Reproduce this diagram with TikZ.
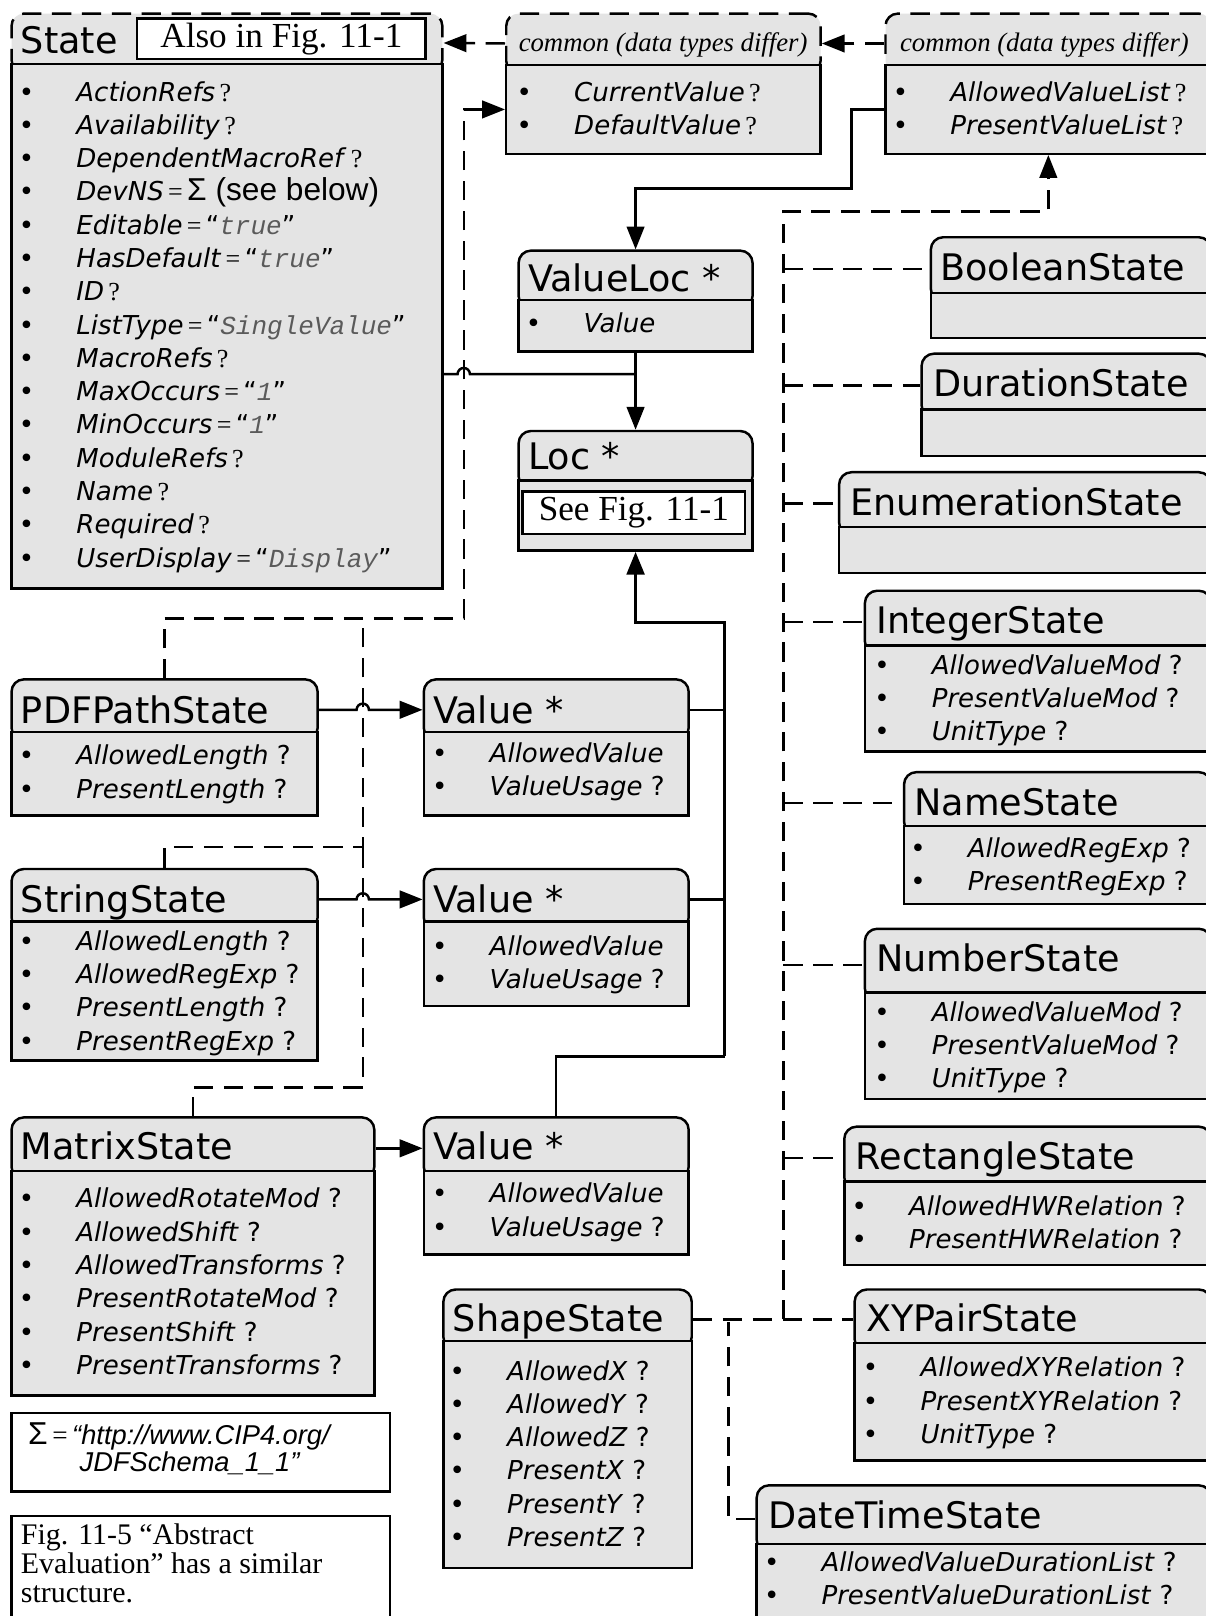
\documentclass[tikz,border=0pt]{standalone}
\usepackage{fontspec}
\setmainfont{Liberation Serif}
\setsansfont{DejaVu Sans}
\setmonofont{Liberation Mono}
\newfontfamily\arialfont{Liberation Sans}
\usetikzlibrary{arrows.meta}
\definecolor{boxgray}{HTML}{E4E4E4}
\definecolor{valgray}{HTML}{5A5A5A}
\def\px{0.0206cm}
\newlength\bulw \setlength\bulw{1.15cm}

\newcommand\qm{\,{\rmfamily ?}}
\newcommand\qs{\ ?}
\newcommand\attval[1]{\,{\rmfamily =}\,“{\ttfamily\itshape\color{valgray}#1}”}
\newcommand\sigpart{\,{\rmfamily =}\,{\arialfont\fontsize{18}{20}\selectfont Σ (see below)}}

\tikzset{
  hdr/.style={draw, fill=boxgray, rounded corners=7pt, line width=1.4pt, inner sep=0pt},
  bdy/.style={draw, fill=boxgray, line width=1.4pt, inner sep=0pt},
  dashhdr/.style={dash pattern=on 11pt off 6pt},
  ttl/.style={font=\sffamily\fontsize{20.8}{24}\selectfont, inner sep=0pt, anchor=base west},
  ctl/.style={font=\rmfamily\itshape\fontsize{15.2}{18}\selectfont, inner sep=0pt, anchor=base west},
  attr/.style={font=\sffamily\fontsize{14.8}{18}\selectfont, inner sep=0pt, anchor=base west},
  note/.style={draw, fill=white, line width=1.4pt, inner sep=0pt},
  refbox/.style={note, font=\rmfamily\fontsize{20}{24}\selectfont},
  sline/.style={line width=1.4pt},
  dline/.style={line width=1.4pt, dash pattern=on 11pt off 6pt},
  tri/.style={-{Triangle[length=13pt,width=10pt]}}
}

% [header style] name, left, top, right, divider, bottom
\newcommand\umlbox[7][]{%
  \node[hdr,#1,minimum width={(#5-#3)*\px},minimum height={(#6-#4+8)*\px},anchor=north west] (#2) at (#3,#4) {};
  \node[bdy,minimum width={(#5-#3)*\px},minimum height={(#7-#6)*\px},anchor=north west] (#2-b) at (#3,#6) {};}
% name, x, first baseline, items name/suffix
\newcommand\attrs[4]{%
  \foreach \attname/\attsuf [count=\i] in {#4}
    \node[attr] (#1-a\i) at (#2,{#3+(\i-1)*32.3}) {\makebox[\bulw][l]{\textbullet}\textit{\attname}\attsuf};}

\begin{document}
\begin{tikzpicture}[x=0.0206cm, y=-0.0206cm]
\useasboundingbox (0,0) rectangle (1170,1568);
\clip (0,0) rectangle (1170,1568);
\fill[white] (0,0) rectangle (1170,1568);

% common parents
\umlbox[dashhdr]{state}{10}{12}{428}{61}{570}
\node[ttl] (state-t) at (20,52) {State};
\node[refbox, minimum width=280*\px, minimum height=39*\px] (state-ref) at (273,37.5) {Also in Fig. 11-1};
\attrs{state}{18}{98}{ActionRefs/\qm, Availability/\qm, DependentMacroRef/\qm, DevNS/\sigpart,
  Editable/\attval{true}, HasDefault/\attval{true}, ID/\qm, ListType/\attval{SingleValue},
  MacroRefs/\qm, MaxOccurs/\attval{1}, MinOccurs/\attval{1}, ModuleRefs/\qm, Name/\qm,
  Required/\qm, UserDisplay/\attval{Display}}

\umlbox[dashhdr]{cv1}{490}{12}{795}{62}{148}
\node[ctl] (cv1-t) at (503,50) {common (data types differ)};
\attrs{cv1}{501}{98}{CurrentValue/\qm, DefaultValue/\qm}

\umlbox[dashhdr]{cv2}{858}{12}{1174}{62}{148}
\node[ctl] (cv2-t) at (873,50) {common (data types differ)};
\attrs{cv2}{866}{98}{AllowedValueList/\qm, PresentValueList/\qm}

\umlbox{vloc}{502}{242}{729}{290}{340}
\node[ttl] (vloc-t) at (512,283) {ValueLoc *};
\attrs{vloc}{510}{323}{Value/\relax}

\umlbox{loc}{502}{417}{729}{465}{533}
\node[ttl] (loc-t) at (512,456) {Loc *};
\node[refbox, minimum width=216*\px, minimum height=41*\px] (loc-ref) at (615,497.5) {See Fig. 11-1};

% left column
\umlbox{pdf}{10}{658}{307}{709}{790}
\node[ttl] (pdf-t) at (20,702) {PDFPathState};
\attrs{pdf}{18}{742}{AllowedLength/\qs, PresentLength/\qs}

\umlbox{val1}{410}{658}{667}{709}{790}
\node[ttl] (val1-t) at (420,702) {Value *};
\attrs{val1}{419}{740}{AllowedValue/\relax, ValueUsage/\qs}

\umlbox{str}{10}{842}{307}{893}{1028}
\node[ttl] (str-t) at (20,885) {StringState};
\attrs{str}{18}{922}{AllowedLength/\qs, AllowedRegExp/\qs, PresentLength/\qs, PresentRegExp/\qs}

\umlbox{val2}{410}{842}{667}{893}{975}
\node[ttl] (val2-t) at (420,885) {Value *};
\attrs{val2}{419}{927}{AllowedValue/\relax, ValueUsage/\qs}

\umlbox{mtx}{10}{1083}{362}{1135}{1353}
\node[ttl] (mtx-t) at (20,1125) {MatrixState};
\attrs{mtx}{18}{1172}{AllowedRotateMod/\qs, AllowedShift/\qs, AllowedTransforms/\qs,
  PresentRotateMod/\qs, PresentShift/\qs, PresentTransforms/\qs}

\umlbox{val3}{410}{1083}{667}{1135}{1216}
\node[ttl] (val3-t) at (420,1125) {Value *};
\attrs{val3}{419}{1167}{AllowedValue/\relax, ValueUsage/\qs}

\umlbox{shape}{429}{1250}{670}{1300}{1520}
\node[ttl] (shape-t) at (439,1292) {ShapeState};
\attrs{shape}{436}{1339}{AllowedX/\qs, AllowedY/\qs, AllowedZ/\qs, PresentX/\qs, PresentY/\qs, PresentZ/\qs}

% right column
\umlbox{bool}{902}{229}{1174}{283}{327}
\node[ttl] (bool-t) at (912,272) {BooleanState};
\umlbox{dur}{893}{342}{1174}{396}{441}
\node[ttl] (dur-t) at (905,385) {DurationState};
\umlbox{enum}{813}{457}{1174}{510}{555}
\node[ttl] (enum-t) at (825,500) {EnumerationState};
\umlbox{int}{838}{572}{1174}{625}{728}
\node[ttl] (int-t) at (850,615) {IntegerState};
\attrs{int}{848}{654}{AllowedValueMod/\qs, PresentValueMod/\qs, UnitType/\qs}
\umlbox{name}{876}{748}{1174}{800}{876}
\node[ttl] (name-t) at (887,791) {NameState};
\attrs{name}{883}{832}{AllowedRegExp/\qs, PresentRegExp/\qs}
\umlbox{num}{838}{900}{1174}{962}{1065}
\node[ttl] (num-t) at (850,943) {NumberState};
\attrs{num}{848}{991}{AllowedValueMod/\qs, PresentValueMod/\qs, UnitType/\qs}
\umlbox{rect}{818}{1092}{1174}{1145}{1226}
\node[ttl] (rect-t) at (830,1135) {RectangleState};
\attrs{rect}{826}{1179}{AllowedHWRelation/\qs, PresentHWRelation/\qs}
\umlbox{xy}{828}{1250}{1174}{1302}{1416}
\node[ttl] (xy-t) at (840,1292) {XYPairState};
\attrs{xy}{837}{1336}{AllowedXYRelation/\qs, PresentXYRelation/\qs, UnitType/\qs}
\umlbox{dt}{733}{1440}{1174}{1497}{1600}
\node[ttl] (dt-t) at (745,1483) {DateTimeState};
\attrs{dt}{741}{1525}{AllowedValueDurationList/\qs, PresentValueDurationList/\qs}

% notes
\node[note, minimum width=367*\px, minimum height=76*\px, anchor=north west] (sig) at (10,1370) {};
\node[inner sep=0pt, anchor=base west, font=\arialfont\fontsize{15.5}{18}\selectfont] (sig-1) at (27,1402)
  {{\fontsize{18}{20}\selectfont Σ}\,{\rmfamily =}\,\textit{“http://www.CIP4.org/}};
\node[inner sep=0pt, anchor=base west, font=\arialfont\itshape\fontsize{15.5}{18}\selectfont] (sig-2) at (77,1428)
  {JDFSchema\_1\_1”};
\node[note, minimum width=367*\px, minimum height=130*\px, anchor=north west] (fig) at (10,1470) {};
\node[inner sep=0pt, anchor=north west, align=left, font=\rmfamily\fontsize{17}{16.6}\selectfont] (fig-t) at (20,1478)
  {Fig. 11-5 “Abstract\\Evaluation” has a similar\\structure.};

% connectors
\coordinate (yL) at (0,363);
\coordinate (hx) at (346,0);
\coordinate (bendA) at (450,600);
\coordinate (tL) at (352,600);
\coordinate (tS) at (352,822);
\coordinate (tM) at (352,1055);
\coordinate (bendB) at (826,183);
\coordinate (rTop) at (760,205);
\path (shape.east -| rTop) coordinate (rBot);
\coordinate (jDT) at (707,1283);
\coordinate (jR) at (703,604);
\coordinate (jV) at (703,1025);

\draw[dline,tri] (cv2.west) -- (cv1.east);
\draw[dline,tri] (cv1.west) -- (state.east);

\draw[dline,tri] (pdf.north) |- (bendA) |- (cv1-b.west);
\draw[dline] (str.north) |- (tS) -- (tL);
\draw[dline] (mtx.north) |- (tM) -- (tS);

\draw[sline] (state-b.east |- yL) -- (444,363) arc[start angle=180,end angle=0,radius=3.5pt] -- (vloc-b.south |- yL);
\draw[sline,tri] (vloc-b.south) -- (loc.north);
\draw[sline,tri] (cv2-b.west) -| (bendB) -| (vloc.north);

\draw[sline,tri] (pdf.east) -- (pdf.east -| hx) arc[start angle=180,end angle=0,radius=3.5pt] -- (pdf.east -| val1.west);
\draw[sline,tri] (str.east) -- (str.east -| hx) arc[start angle=180,end angle=0,radius=3.5pt] -- (str.east -| val2.west);
\draw[sline,tri] (mtx.east) -- (mtx.east -| val3.west);

\draw[sline] (val1.east) -- (val1.east -| jR);
\draw[sline] (val2.east) -- (val2.east -| jR);
\draw[sline] (val3.north) |- (jV);
\draw[line width=2pt,tri] (jV) -- (jR) -| (loc-b.south);

\draw[dline,tri] (rBot) -- (rTop) -| (cv2-b.south);
\foreach \b in {bool,dur,enum,int,name,num,rect}
  \draw[dline] (\b.west -| rTop) -- (\b.west);
\draw[dline] (shape.east) -- (shape.east -| xy.west);
\draw[dline] (dt.west) -| (jDT);
\end{tikzpicture}
\end{document}
